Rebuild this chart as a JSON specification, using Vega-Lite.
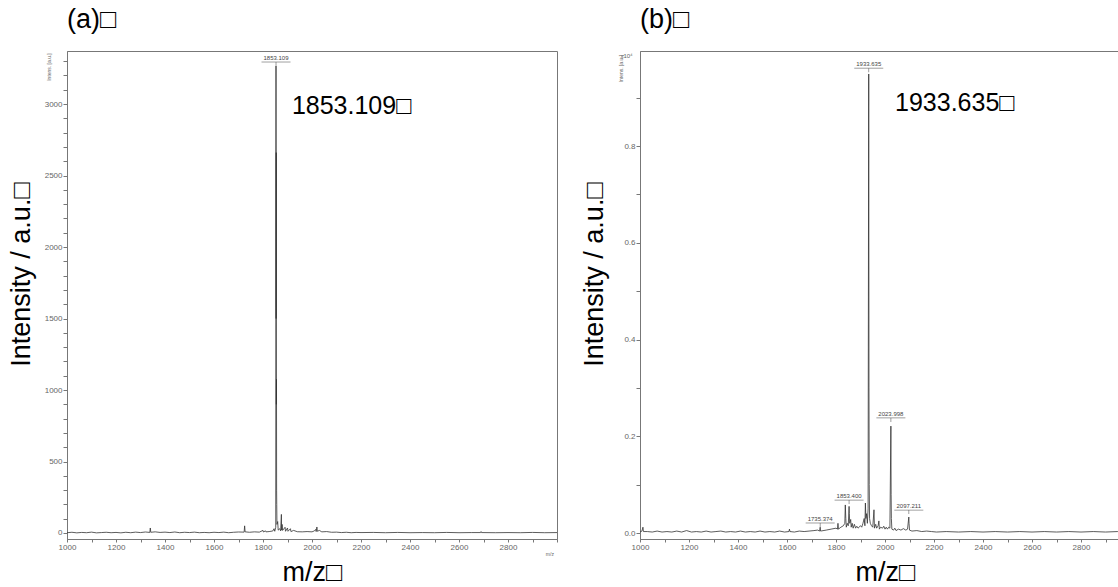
{
  "$schema": "https://vega.github.io/schema/vega-lite/v6.json",
  "padding": {"left": 6, "top": 5, "right": 0, "bottom": 0},
  "bounds": "flush",
  "spacing": 83,
  "config": {
    "view": {"stroke": "#777", "strokeWidth": 1},
    "axis": {"domainColor": "#777", "tickColor": "#777", "labelColor": "#666", "labelFont": "Liberation Sans", "labelFontSize": 8, "grid": false, "tickSize": 4, "labelPadding": 1, "labelFlush": false, "titleFont": "Liberation Sans", "titleFontWeight": "normal", "titleColor": "black", "titleFontSize": 27},
    "title": {"font": "Liberation Sans", "fontSize": 27, "fontWeight": "normal", "color": "black", "anchor": "start", "frame": "group", "baseline": "alphabetic", "offset": 17}
  },
  "datasets": {
    "specA": [
      {"mz": 1000, "i": 2}, {"mz": 1020, "i": 5}, {"mz": 1040, "i": 1}, {"mz": 1060, "i": 4}, {"mz": 1080, "i": 2}, {"mz": 1100, "i": 6}, {"mz": 1120, "i": 1}, {"mz": 1140, "i": 3}, {"mz": 1160, "i": 5}, {"mz": 1180, "i": 2}, {"mz": 1200, "i": 4}, {"mz": 1220, "i": 1}, {"mz": 1240, "i": 5}, {"mz": 1260, "i": 2}, {"mz": 1280, "i": 6}, {"mz": 1300, "i": 3}, {"mz": 1320, "i": 7}, {"mz": 1338, "i": 4}, {"mz": 1340, "i": 35}, {"mz": 1342, "i": 5}, {"mz": 1360, "i": 8}, {"mz": 1380, "i": 4}, {"mz": 1400, "i": 6}, {"mz": 1420, "i": 3}, {"mz": 1440, "i": 7}, {"mz": 1460, "i": 2}, {"mz": 1480, "i": 5}, {"mz": 1500, "i": 3}, {"mz": 1520, "i": 6}, {"mz": 1540, "i": 2}, {"mz": 1560, "i": 4}, {"mz": 1580, "i": 2}, {"mz": 1600, "i": 5}, {"mz": 1620, "i": 3}, {"mz": 1640, "i": 6}, {"mz": 1660, "i": 2}, {"mz": 1680, "i": 5}, {"mz": 1700, "i": 7}, {"mz": 1723, "i": 6}, {"mz": 1725, "i": 50}, {"mz": 1727, "i": 8}, {"mz": 1745, "i": 5}, {"mz": 1765, "i": 8}, {"mz": 1785, "i": 6}, {"mz": 1800, "i": 18}, {"mz": 1802, "i": 7}, {"mz": 1810, "i": 15}, {"mz": 1812, "i": 8}, {"mz": 1825, "i": 10}, {"mz": 1840, "i": 14}, {"mz": 1845, "i": 30}, {"mz": 1848, "i": 12}, {"mz": 1852, "i": 40}, {"mz": 1853.1, "i": 3266}, {"mz": 1853.6, "i": 1500}, {"mz": 1854.1, "i": 2660}, {"mz": 1854.6, "i": 900}, {"mz": 1855.1, "i": 1075}, {"mz": 1855.6, "i": 300}, {"mz": 1856.1, "i": 200}, {"mz": 1857, "i": 60}, {"mz": 1860, "i": 80}, {"mz": 1862, "i": 20}, {"mz": 1868, "i": 30}, {"mz": 1872, "i": 15}, {"mz": 1875, "i": 130}, {"mz": 1876, "i": 20}, {"mz": 1878, "i": 60}, {"mz": 1880, "i": 18}, {"mz": 1890, "i": 40}, {"mz": 1892, "i": 12}, {"mz": 1900, "i": 35}, {"mz": 1902, "i": 12}, {"mz": 1912, "i": 30}, {"mz": 1914, "i": 10}, {"mz": 1925, "i": 18}, {"mz": 1940, "i": 9}, {"mz": 1960, "i": 8}, {"mz": 1980, "i": 10}, {"mz": 2000, "i": 8}, {"mz": 2010, "i": 15}, {"mz": 2015, "i": 25}, {"mz": 2017, "i": 10}, {"mz": 2020, "i": 42}, {"mz": 2022, "i": 12}, {"mz": 2030, "i": 18}, {"mz": 2040, "i": 8}, {"mz": 2060, "i": 10}, {"mz": 2080, "i": 5}, {"mz": 2100, "i": 6}, {"mz": 2120, "i": 3}, {"mz": 2140, "i": 5}, {"mz": 2160, "i": 2}, {"mz": 2180, "i": 4}, {"mz": 2200, "i": 3}, {"mz": 2250, "i": 4}, {"mz": 2300, "i": 2}, {"mz": 2350, "i": 4}, {"mz": 2400, "i": 2}, {"mz": 2450, "i": 3}, {"mz": 2500, "i": 2}, {"mz": 2550, "i": 4}, {"mz": 2600, "i": 2}, {"mz": 2650, "i": 3}, {"mz": 2688, "i": 3}, {"mz": 2690, "i": 10}, {"mz": 2692, "i": 3}, {"mz": 2750, "i": 2}, {"mz": 2800, "i": 3}, {"mz": 2850, "i": 2}, {"mz": 2900, "i": 4}, {"mz": 2950, "i": 2}, {"mz": 3000, "i": 3}
    ],
    "specB": [
      {"mz": 1000, "i": 0.002}, {"mz": 1008, "i": 0.004}, {"mz": 1012, "i": 0.012}, {"mz": 1014, "i": 0.003}, {"mz": 1030, "i": 0.003}, {"mz": 1050, "i": 0.002}, {"mz": 1070, "i": 0.004}, {"mz": 1090, "i": 0.002}, {"mz": 1110, "i": 0.003}, {"mz": 1130, "i": 0.002}, {"mz": 1150, "i": 0.004}, {"mz": 1170, "i": 0.002}, {"mz": 1190, "i": 0.005}, {"mz": 1210, "i": 0.002}, {"mz": 1230, "i": 0.003}, {"mz": 1250, "i": 0.002}, {"mz": 1270, "i": 0.004}, {"mz": 1290, "i": 0.002}, {"mz": 1310, "i": 0.003}, {"mz": 1330, "i": 0.004}, {"mz": 1350, "i": 0.002}, {"mz": 1370, "i": 0.003}, {"mz": 1390, "i": 0.002}, {"mz": 1410, "i": 0.004}, {"mz": 1430, "i": 0.002}, {"mz": 1450, "i": 0.003}, {"mz": 1470, "i": 0.002}, {"mz": 1490, "i": 0.004}, {"mz": 1510, "i": 0.002}, {"mz": 1530, "i": 0.003}, {"mz": 1550, "i": 0.002}, {"mz": 1570, "i": 0.004}, {"mz": 1590, "i": 0.002}, {"mz": 1608, "i": 0.003}, {"mz": 1610, "i": 0.008}, {"mz": 1612, "i": 0.003}, {"mz": 1630, "i": 0.002}, {"mz": 1650, "i": 0.004}, {"mz": 1670, "i": 0.003}, {"mz": 1690, "i": 0.004}, {"mz": 1710, "i": 0.005}, {"mz": 1725, "i": 0.006}, {"mz": 1733, "i": 0.004}, {"mz": 1735.4, "i": 0.012}, {"mz": 1737, "i": 0.004}, {"mz": 1760, "i": 0.006}, {"mz": 1780, "i": 0.008}, {"mz": 1800, "i": 0.01}, {"mz": 1806, "i": 0.008}, {"mz": 1808, "i": 0.02}, {"mz": 1810, "i": 0.008}, {"mz": 1820, "i": 0.012}, {"mz": 1830, "i": 0.015}, {"mz": 1836, "i": 0.02}, {"mz": 1838, "i": 0.058}, {"mz": 1840, "i": 0.03}, {"mz": 1842, "i": 0.012}, {"mz": 1846, "i": 0.02}, {"mz": 1850, "i": 0.015}, {"mz": 1853.4, "i": 0.055}, {"mz": 1854.4, "i": 0.04}, {"mz": 1856, "i": 0.02}, {"mz": 1860, "i": 0.028}, {"mz": 1862, "i": 0.012}, {"mz": 1866, "i": 0.02}, {"mz": 1870, "i": 0.01}, {"mz": 1875, "i": 0.018}, {"mz": 1880, "i": 0.01}, {"mz": 1885, "i": 0.014}, {"mz": 1890, "i": 0.01}, {"mz": 1900, "i": 0.015}, {"mz": 1905, "i": 0.012}, {"mz": 1910, "i": 0.02}, {"mz": 1915, "i": 0.03}, {"mz": 1918, "i": 0.015}, {"mz": 1920, "i": 0.062}, {"mz": 1922, "i": 0.03}, {"mz": 1925, "i": 0.04}, {"mz": 1928, "i": 0.02}, {"mz": 1931, "i": 0.05}, {"mz": 1933.6, "i": 0.949}, {"mz": 1934.6, "i": 0.3}, {"mz": 1935.6, "i": 0.1}, {"mz": 1937, "i": 0.03}, {"mz": 1940, "i": 0.02}, {"mz": 1945, "i": 0.015}, {"mz": 1950, "i": 0.012}, {"mz": 1955, "i": 0.048}, {"mz": 1957, "i": 0.01}, {"mz": 1962, "i": 0.018}, {"mz": 1966, "i": 0.01}, {"mz": 1972, "i": 0.015}, {"mz": 1975, "i": 0.025}, {"mz": 1977, "i": 0.008}, {"mz": 1982, "i": 0.012}, {"mz": 1990, "i": 0.01}, {"mz": 1995, "i": 0.014}, {"mz": 2000, "i": 0.008}, {"mz": 2005, "i": 0.012}, {"mz": 2010, "i": 0.008}, {"mz": 2015, "i": 0.012}, {"mz": 2020, "i": 0.01}, {"mz": 2024, "i": 0.221}, {"mz": 2025, "i": 0.08}, {"mz": 2026, "i": 0.03}, {"mz": 2028, "i": 0.008}, {"mz": 2035, "i": 0.006}, {"mz": 2040, "i": 0.01}, {"mz": 2045, "i": 0.005}, {"mz": 2055, "i": 0.008}, {"mz": 2065, "i": 0.006}, {"mz": 2075, "i": 0.009}, {"mz": 2085, "i": 0.006}, {"mz": 2092, "i": 0.008}, {"mz": 2097.2, "i": 0.033}, {"mz": 2098.2, "i": 0.02}, {"mz": 2100, "i": 0.006}, {"mz": 2110, "i": 0.004}, {"mz": 2130, "i": 0.005}, {"mz": 2150, "i": 0.003}, {"mz": 2170, "i": 0.004}, {"mz": 2190, "i": 0.003}, {"mz": 2210, "i": 0.002}, {"mz": 2250, "i": 0.003}, {"mz": 2300, "i": 0.002}, {"mz": 2350, "i": 0.003}, {"mz": 2400, "i": 0.002}, {"mz": 2450, "i": 0.003}, {"mz": 2500, "i": 0.002}, {"mz": 2550, "i": 0.003}, {"mz": 2600, "i": 0.002}, {"mz": 2650, "i": 0.003}, {"mz": 2700, "i": 0.002}, {"mz": 2750, "i": 0.003}, {"mz": 2800, "i": 0.002}, {"mz": 2850, "i": 0.003}, {"mz": 2900, "i": 0.002}, {"mz": 2950, "i": 0.003}, {"mz": 3000, "i": 0.002}
    ],
    "labA": [{"mz": 1853.109, "lvl": 3294, "label": "1853.109"}],
    "labB": [
      {"mz": 1933.635, "lvl": 0.961, "label": "1933.635"},
      {"mz": 2023.998, "lvl": 0.238, "label": "2023.998"},
      {"mz": 1853.4, "lvl": 0.068, "label": "1853.400"},
      {"mz": 1735.374, "lvl": 0.0207, "label": "1735.374"},
      {"mz": 2097.211, "lvl": 0.0475, "label": "2097.211"}
    ],
    "annA": [
      {"mz": 1918, "i": 2930, "label": "1853.109□", "kind": "big"},
      {"mz": 927, "i": 3259, "label": "Intens. [a.u.]", "kind": "unit"},
      {"mz": 2971, "i": -150, "label": "m/z", "kind": "mz"}
    ],
    "annB": [
      {"mz": 2041, "i": 0.872, "label": "1933.635□", "kind": "big"},
      {"mz": 922, "i": 0.96, "label": "Intens. [a.u.]", "kind": "unit"},
      {"mz": 945, "i": 0.986, "label": "x10⁴", "kind": "exp"}
    ],
    "zero": [{"base": 0}]
  },
  "hconcat": [
    {
      "width": 490,
      "height": 488,
      "title": {"text": "(a)□"},
      "encoding": {
        "x": {"field": "mz", "type": "quantitative", "scale": {"domain": [1000, 3000], "nice": false, "zero": false},
              "axis": {"title": "m/z□", "values": [1000,1100,1200,1300,1400,1500,1600,1700,1800,1900,2000,2100,2200,2300,2400,2500,2600,2700,2800,2900,3000], "labelExpr": "datum.value % 200 == 0 && datum.value < 3000 ? format(datum.value, 'd') : ''", "tickSize": 3, "titleBaseline": "alphabetic", "titleY": 41, "titleAnchor": "middle"}},
        "y": {"field": "i", "type": "quantitative", "scale": {"domain": [-42, 3371], "nice": false, "zero": false},
              "axis": {"title": "Intensity / a.u.□", "values": [0,100,200,300,400,500,600,700,800,900,1000,1100,1200,1300,1400,1500,1600,1700,1800,1900,2000,2100,2200,2300,2400,2500,2600,2700,2800,2900,3000,3100,3200,3300], "labelExpr": "datum.value % 500 == 0 ? format(datum.value, 'd') : ''", "titleBaseline": "middle", "titleX": -46, "titleY": 223, "titleAlign": "center", "titleAngle": -90}}
      },
      "layer": [
        {"data": {"name": "zero"}, "mark": {"type": "rule", "color": "#999", "strokeWidth": 0.8}, "encoding": {"x": {"datum": 1000, "type": "quantitative"}, "x2": {"datum": 3000}, "y": {"field": "base", "type": "quantitative"}}},
        {"data": {"name": "specA"}, "mark": {"type": "line", "color": "#333", "strokeWidth": 0.8}},
        {"data": {"name": "labA"}, "mark": {"type": "tick", "orient": "horizontal", "size": 29, "thickness": 0.8, "color": "#555"}, "encoding": {"y": {"field": "lvl", "type": "quantitative"}}},
        {"data": {"name": "labA"}, "mark": {"type": "tick", "orient": "vertical", "size": 4, "thickness": 0.8, "color": "#555", "yOffset": 2}, "encoding": {"y": {"field": "lvl", "type": "quantitative"}}},
        {"data": {"name": "labA"}, "mark": {"type": "text", "font": "Liberation Sans", "fontSize": 6, "color": "#444", "baseline": "bottom", "dy": -1}, "encoding": {"y": {"field": "lvl", "type": "quantitative"}, "text": {"field": "label"}}},
        {"data": {"name": "annA"}, "transform": [{"filter": "datum.kind == 'big'"}], "mark": {"type": "text", "font": "Liberation Sans", "fontSize": 25, "color": "black", "align": "left", "baseline": "alphabetic"}, "encoding": {"text": {"field": "label"}}},
        {"data": {"name": "annA"}, "transform": [{"filter": "datum.kind == 'unit'"}], "mark": {"type": "text", "font": "Liberation Sans", "fontSize": 5, "color": "#666", "align": "center", "baseline": "middle", "angle": 270}, "encoding": {"text": {"field": "label"}}},
        {"data": {"name": "annA"}, "transform": [{"filter": "datum.kind == 'mz'"}], "mark": {"type": "text", "font": "Liberation Sans", "fontSize": 5, "color": "#666", "align": "center", "baseline": "middle"}, "encoding": {"text": {"field": "label"}}}
      ]
    },
    {
      "width": 490,
      "height": 488,
      "title": {"text": "(b)□"},
      "encoding": {
        "x": {"field": "mz", "type": "quantitative", "scale": {"domain": [1000, 3000], "nice": false, "zero": false},
              "axis": {"title": "m/z□", "values": [1000,1100,1200,1300,1400,1500,1600,1700,1800,1900,2000,2100,2200,2300,2400,2500,2600,2700,2800,2900,3000], "labelExpr": "datum.value % 200 == 0 && datum.value < 3000 ? format(datum.value, 'd') : ''", "tickSize": 3, "titleBaseline": "alphabetic", "titleY": 41, "titleAnchor": "middle"}},
        "y": {"field": "i", "type": "quantitative", "scale": {"domain": [-0.0124, 0.9965], "nice": false, "zero": false},
              "axis": {"title": "Intensity / a.u.□", "values": [0, 0.1, 0.2, 0.3, 0.4, 0.5, 0.6, 0.7, 0.8, 0.9], "labelExpr": "round(datum.value * 10) % 2 == 0 ? format(datum.value, '.1f') : ''", "titleBaseline": "middle", "titleX": -46, "titleY": 223, "titleAlign": "center", "titleAngle": -90}}
      },
      "layer": [
        {"data": {"name": "zero"}, "mark": {"type": "rule", "color": "#999", "strokeWidth": 0.8}, "encoding": {"x": {"datum": 1000, "type": "quantitative"}, "x2": {"datum": 3000}, "y": {"field": "base", "type": "quantitative"}}},
        {"data": {"name": "specB"}, "mark": {"type": "line", "color": "#333", "strokeWidth": 0.8}},
        {"data": {"name": "labB"}, "mark": {"type": "tick", "orient": "horizontal", "size": 29, "thickness": 0.8, "color": "#555"}, "encoding": {"y": {"field": "lvl", "type": "quantitative"}}},
        {"data": {"name": "labB"}, "mark": {"type": "tick", "orient": "vertical", "size": 4, "thickness": 0.8, "color": "#555", "yOffset": 2}, "encoding": {"y": {"field": "lvl", "type": "quantitative"}}},
        {"data": {"name": "labB"}, "mark": {"type": "text", "font": "Liberation Sans", "fontSize": 6, "color": "#444", "baseline": "bottom", "dy": -1}, "encoding": {"y": {"field": "lvl", "type": "quantitative"}, "text": {"field": "label"}}},
        {"data": {"name": "annB"}, "transform": [{"filter": "datum.kind == 'big'"}], "mark": {"type": "text", "font": "Liberation Sans", "fontSize": 25, "color": "black", "align": "left", "baseline": "alphabetic"}, "encoding": {"text": {"field": "label"}}},
        {"data": {"name": "annB"}, "transform": [{"filter": "datum.kind == 'unit'"}], "mark": {"type": "text", "font": "Liberation Sans", "fontSize": 5, "color": "#666", "align": "center", "baseline": "middle", "angle": 270}, "encoding": {"text": {"field": "label"}}},
        {"data": {"name": "annB"}, "transform": [{"filter": "datum.kind == 'exp'"}], "mark": {"type": "text", "font": "Liberation Sans", "fontSize": 6, "color": "#666", "align": "center", "baseline": "middle"}, "encoding": {"text": {"field": "label"}}}
      ]
    }
  ]
}
